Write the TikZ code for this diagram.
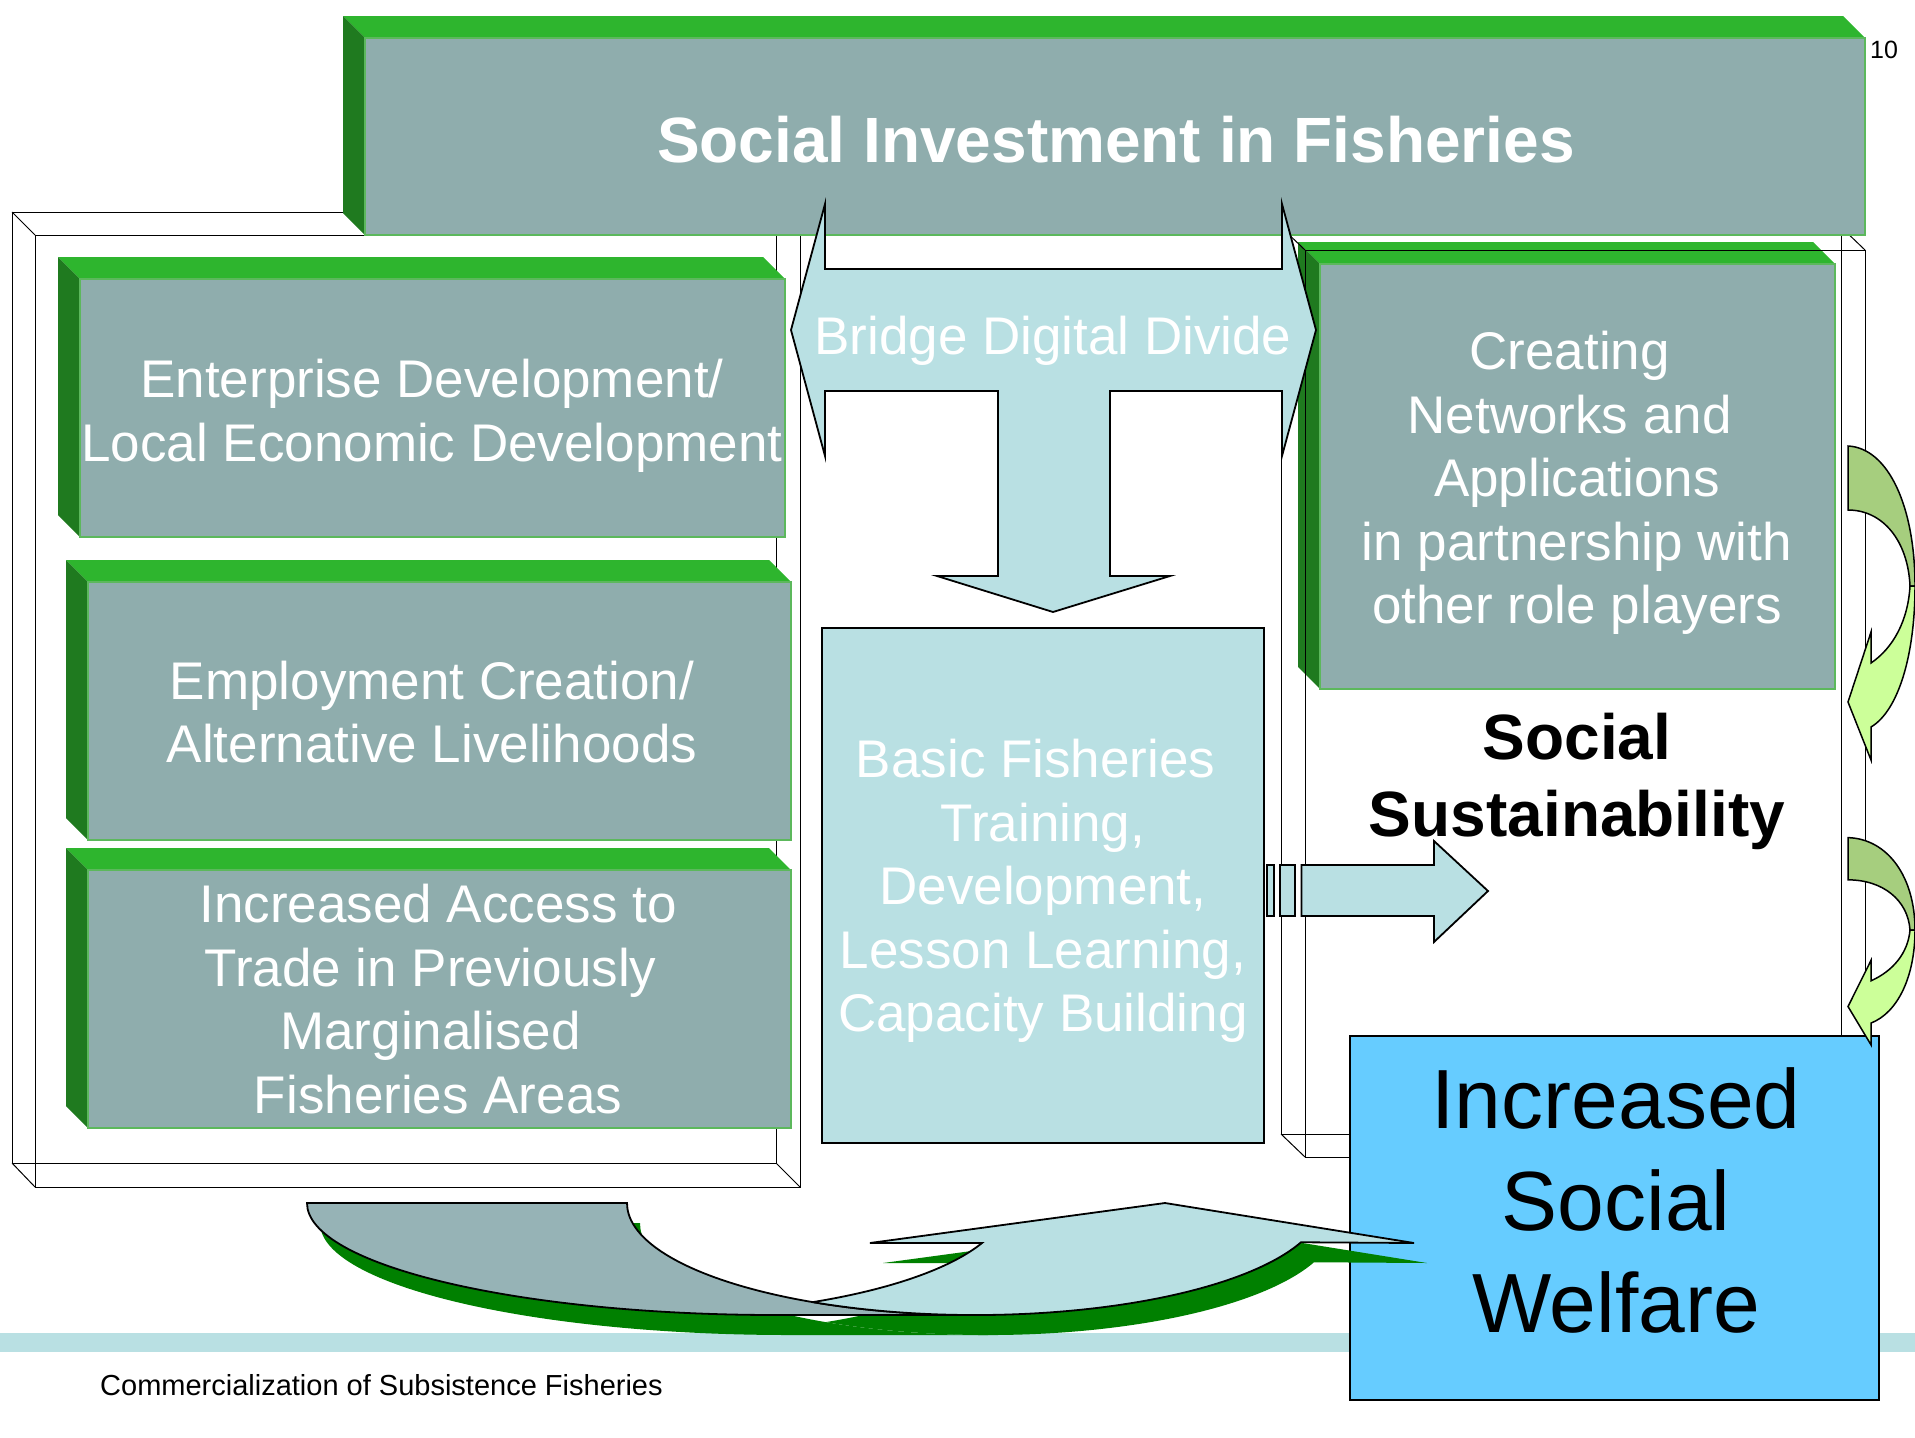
\documentclass[tikz,border=0pt]{standalone}
\usepackage{fontspec}
\setmainfont{Liberation Sans}
\definecolor{boxgray}{HTML}{8FADAD}
\definecolor{backgray}{HTML}{96B3B6}
\definecolor{topgreen}{HTML}{2EB52E}
\definecolor{sidegreen}{HTML}{1F7A1F}
\definecolor{edgegreen}{HTML}{5CB85C}
\definecolor{paleblue}{HTML}{B9E0E3}
\definecolor{skyblue}{HTML}{66CCFF}
\definecolor{shadowgreen}{HTML}{008000}
\definecolor{leafdark}{HTML}{A6CE7E}
\definecolor{leaflight}{HTML}{CCFF99}
\tikzset{
  frameline/.style={draw=black, line width=1pt},
  facegray/.style={fill=boxgray, draw=edgegreen, line width=2pt},
  bluearrow/.style={fill=paleblue, draw=black, line width=1.8pt},
  whitetext/.style={text=white, align=center, font=\fontsize{53}{63.6}\selectfont},
}
\def\tsp{\kern0.28em}
\def\greenbox(#1,#2)(#3,#4){%
  \fill[topgreen] (#1-22,#2+22) -- (#3-22,#2+22) -- (#3,#2) -- (#1,#2) -- cycle;
  \fill[sidegreen] (#1-22,#2+22) -- (#1,#2) -- (#1,#4) -- (#1-22,#4+22) -- cycle;
  \draw[facegray] (#1,#2) rectangle (#3,#4);}
\def\leafarrow(#1,#2)#3{%
  \begin{scope}[shift={(#1,#2)}, yscale=#3]
    \draw[fill=leafdark, line width=1.5pt] (0,140) .. controls (40,138) and (67,80) .. (67,0) -- (62,0) .. controls (60,45) and (35,76) .. (0,76) -- cycle;
    \draw[fill=leaflight, line width=1.5pt] (67,0) .. controls (67,-70) and (50,-125) .. (23,-141) -- (23,-174) -- (0,-116) -- (23,-46) -- (23,-77) .. controls (45,-62) and (60,-35) .. (62,0) -- cycle;
  \end{scope}}
\def\backpart[#1]{\draw[#1] (307,-1203) -- (627,-1203) arc[start angle=180, end angle=270, x radius=348, y radius=112] -- (776,-1315) arc[start angle=270, end angle=180, x radius=469, y radius=112] -- cycle;}
\def\frontpart[#1]{\draw[#1] (813.3,-1302.2) arc[start angle=242.3, end angle=339.5, x radius=348, y radius=112] -- (1414,-1243) -- (1165,-1203) -- (870,-1243) -- (982,-1243) arc[start angle=339, end angle=297.7, x radius=360, y radius=112] -- cycle;}

\begin{document}
\begin{tikzpicture}[x=1pt,y=1pt]
	%%%%% START %%%%%
	\useasboundingbox (0,0) rectangle (1915,-1438);
	
	\fill[paleblue] (0,-1333) rectangle (1915,-1352);
	
	\draw[frameline] (12,-212) rectangle (776,-1163);
	\draw[frameline] (35,-235) rectangle (800,-1187);
	\draw[frameline] (12,-212) -- (35,-235);
	\draw[frameline] (12,-1163) -- (35,-1187);
	\draw[frameline] (776,-1163) -- (800,-1187);
	
	\greenbox(80,-279)(785,-537);
	\greenbox(88,-582)(791,-840);
	\greenbox(88,-870)(791,-1128);
	
	\greenbox(1320,-264)(1835,-689);
	
	\draw[frameline] (1281,-227) rectangle (1841,-1134);
	\draw[frameline] (1305,-250) rectangle (1865,-1157);
	\draw[frameline] (1841,-227) -- (1865,-250);
	\draw[frameline] (1281,-227) -- (1305,-250);
	\draw[frameline] (1281,-1134) -- (1305,-1157);
	
	\greenbox(365,-38)(1865,-235);
	
	\draw[bluearrow] (791,-330) -- (825,-204) -- (825,-269) -- (1282,-269) -- (1282,-204) -- (1316,-330) -- (1282,-456) -- (1282,-391) -- (1110,-391) -- (1110,-576) -- (1170,-576) -- (1053,-612) -- (937,-576) -- (998,-576) -- (998,-391) -- (825,-391) -- (825,-456) -- cycle;
	
	\draw[bluearrow] (822,-628) rectangle (1264,-1143);
	
	\draw[bluearrow] (1266.6,-865) rectangle (1274,-916);
	\draw[bluearrow] (1280,-865) rectangle (1295,-916);
	\draw[bluearrow] (1301.5,-865) -- (1434,-865) -- (1434,-841) -- (1488,-891) -- (1434,-942) -- (1434,-916) -- (1301.5,-916) -- cycle;
	
	\draw[fill=skyblue, line width=2pt] (1350,-1036) rectangle (1879,-1400);
	
	\backpart[fill=shadowgreen, draw=none, shift={(13,-20)}]
	\frontpart[fill=shadowgreen, draw=none, shift={(13,-20)}]
	\backpart[fill=backgray, line width=1.8pt]
	\frontpart[fill=paleblue, line width=1.8pt]
	
	\leafarrow(1848,-586){1}
	\leafarrow(1848,-930){0.66}
	
	\node[text=white, font=\bfseries\fontsize{64}{77}\selectfont] (title) at (1116,-140) {Social Investment in Fisheries};
	\node[whitetext] (enterprise) at (432,-416) {Enterprise Development/\\Local Economic Development};
	\node[whitetext] (employment) at (432,-712) {Employment Creation/\\Alternative Livelihoods};
	\node[whitetext] (access) at (438,-999) {Increased Access to\\Trade in Previously\tsp\\Marginalised\tsp\\Fisheries Areas};
	\node[whitetext] (bridge) at (1053,-341) {Bridge Digital Divide};
	\node[whitetext] (basic) at (1043,-891) {Basic Fisheries\tsp\\Training,\\Development,\\Lesson Learning,\\Capacity Building};
	\node[whitetext] (networks) at (1577,-483) {Creating\tsp\\Networks and\tsp\\Applications\\in partnership with\\other role players};
	\node[align=center, font=\bfseries\fontsize{64}{77}\selectfont] (sustain) at (1577,-781) {Social\\Sustainability};
	\node[align=center, font=\fontsize{84}{102}\selectfont] (welfare) at (1616,-1200) {Increased\\Social\\Welfare};
	\node[anchor=west, inner sep=0pt, font=\fontsize{29}{35}\selectfont] (footer) at (100,-1385) {Commercialization of Subsistence Fisheries};
	\node[anchor=west, inner sep=0pt, font=\fontsize{25}{30}\selectfont] (pagenum) at (1870,-50) {10};
	
	%%%%% END %%%%%
\end{tikzpicture}
\end{document}
